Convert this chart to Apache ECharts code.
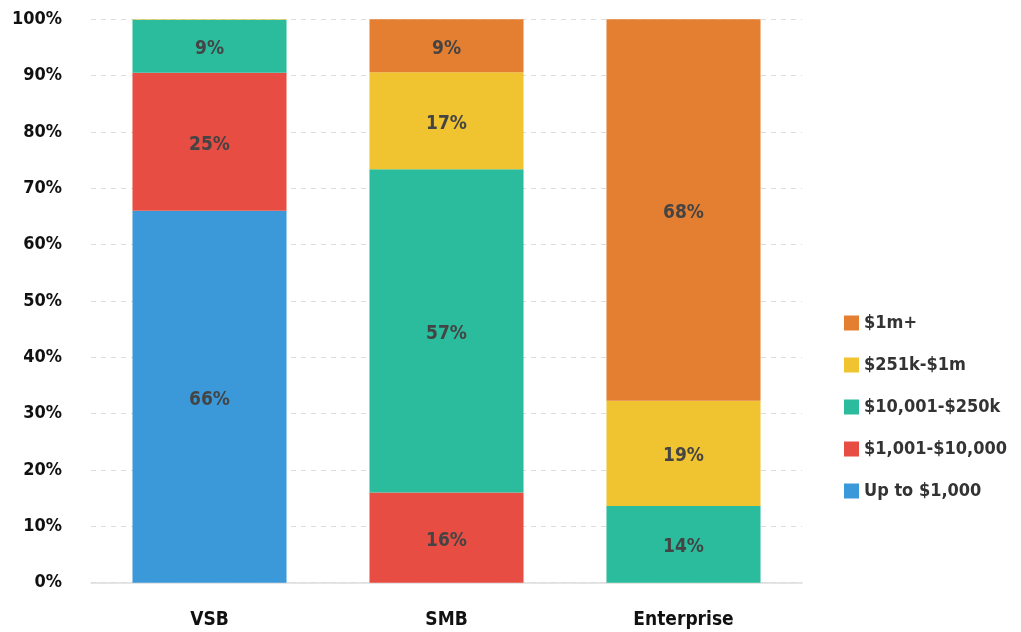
<!DOCTYPE html>
<html>
<head>
<meta charset="utf-8">
<script src="https://cdn.jsdelivr.net/npm/echarts@6/dist/echarts.min.js"></script>
<style>html,body{margin:0;padding:0;background:#fff}#c{width:1021px;height:632px}</style>
</head>
<body>
<div id="c"></div>
<script>
var categories = ['VSB', 'SMB', 'Enterprise'];
var seriesNames = ['Up to $1,000', '$1,001-$10,000', '$10,001-$250k', '$251k-$1m', '$1m+'];
var upTo1k = [66, 0, 0];
var k1to10 = [24.5, 16, 0];
var k10to250 = [9.4, 57.4, 13.6];
var k251to1m = [0.1, 17.2, 18.7];
var m1plus = [0, 9.4, 67.7];
var yTicks = [0, 10, 20, 30, 40, 50, 60, 70, 80, 90, 100];
var colors = ['#3b99d9', '#e74d42', '#2bbc9d', '#f0c331', '#e47f32'];
var FONT = "'Liberation Sans Narrow', 'DejaVu Sans Condensed', sans-serif";

var values = [upTo1k, k1to10, k10to250, k251to1m, m1plus];
var series = seriesNames.map(function (name, i) {
  return {
    name: name,
    type: 'bar',
    stack: 'total',
    barWidth: '65%',
    itemStyle: { color: colors[i] },
    data: values[i],
    label: {
      show: true,
      position: 'inside',
      fontFamily: FONT,
      fontWeight: 'bold',
      fontSize: 19,
      color: '#444',
      offset: [0, 3],
      formatter: function (p) { return p.value >= 1 ? Math.round(p.value) + '%' : ''; }
    }
  };
});

var chart = echarts.init(document.getElementById('c'), null, { renderer: 'canvas' });
chart.setOption({
  animation: false,
  backgroundColor: '#fff',
  grid: { left: 91, right: 219, top: 19.3, bottom: 49.3, containLabel: false },
  legend: {
    orient: 'vertical',
    left: 839,
    top: 308,
    icon: 'rect',
    itemWidth: 15,
    itemHeight: 15,
    itemGap: 22,
    data: seriesNames.slice().reverse(),
    textStyle: { fontFamily: FONT, fontWeight: 'bold', fontSize: 18, color: '#333', lineHeight: 20 }
  },
  xAxis: {
    type: 'category',
    data: categories,
    axisLine: { lineStyle: { color: '#ddd', width: 1.5 } },
    axisTick: { show: false },
    axisLabel: { fontFamily: FONT, fontWeight: 'bold', fontSize: 19, color: '#111', margin: 28 }
  },
  yAxis: {
    type: 'value',
    min: yTicks[0],
    max: yTicks[yTicks.length - 1],
    interval: 10,
    axisLine: { show: false },
    axisTick: { show: false },
    splitLine: { lineStyle: { color: '#ddd', type: [5, 5] } },
    axisLabel: { fontFamily: FONT, fontWeight: 'bold', fontSize: 18, color: '#111', margin: 29, formatter: '{value}%' }
  },
  series: series
});
</script>
</body>
</html>
